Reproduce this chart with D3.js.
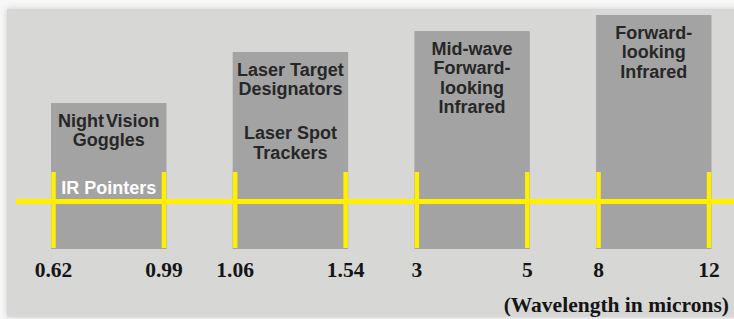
<!DOCTYPE html>
<html>
<head>
<meta charset="utf-8">
<script src="https://cdn.jsdelivr.net/npm/d3@7/dist/d3.min.js"></script>
<style>
  html, body { margin: 0; padding: 0; background: #f7f7f7; }
  svg { display: block; }
</style>
</head>
<body>
<svg id="chart" width="734" height="319"></svg>
<script>
// ---- data ----
const bands = ["Night Vision Goggles", "Laser Designators / Trackers", "Mid-wave FLIR", "FLIR"];
const startLabels = ["0.62", "1.06", "3", "8"];
const endLabels = ["0.99", "1.54", "5", "12"];
const boxLevels = [0.622, 0.841, 0.931, 1.0];
const boxLines = [
  ["Night Vision", "Goggles"],
  ["Laser Target", "Designators", "", "Laser Spot", "Trackers"],
  ["Mid-wave", "Forward-", "looking", "Infrared"],
  ["Forward-", "looking", "Infrared"]
];
const innerLabels = ["IR Pointers", "", "", ""];
const axisTitle = "(Wavelength in microns)";

// ---- drawing ----
const W = 734, H = 319;
const svg = d3.select("#chart");
const defs = svg.append("defs");
const f = defs.append("filter").attr("id", "sh").attr("x", "-5%").attr("y", "-5%").attr("width", "110%").attr("height", "110%");
f.append("feDropShadow").attr("dx", 0).attr("dy", 0).attr("stdDeviation", 3)
  .attr("flood-color", "#000").attr("flood-opacity", 0.18);

svg.append("rect").attr("x", 7).attr("y", 9).attr("width", W - 7 + 10).attr("height", H - 9 - 2)
  .attr("fill", "#d7d7d6").attr("filter", "url(#sh)");

const x = d3.scaleBand().domain(bands).range([53.5, 709]).paddingInner(0.392).paddingOuter(0);
const y = d3.scaleLinear().domain([0, 1]).range([248, 15]);
const bw = x.bandwidth();
const yellow = "#fff000";
const lineY = 201.5;

const g = svg.append("g").selectAll("g").data(bands).join("g");

// boxes
g.append("rect")
  .attr("x", d => x(d) - 2.5)
  .attr("width", bw + 5)
  .attr("y", (d, i) => y(boxLevels[i]))
  .attr("height", (d, i) => y(0) + 1 - y(boxLevels[i]))
  .attr("fill", "#a3a3a3");

// box titles
g.each(function (d, i) {
  const t = d3.select(this).append("text")
    .attr("text-anchor", "middle")
    .attr("font-family", "'Liberation Sans', Arial, sans-serif")
    .attr("font-weight", "bold")
    .attr("font-size", 18)
    .attr("fill", "#272727")
    .attr("word-spacing", i === 0 ? -3 : 0);
  let yy = y(boxLevels[i]) + 23.5;
  boxLines[i].forEach((ln, k) => {
    if (ln === "") { yy += 24.5; return; }
    t.append("tspan").attr("x", x(d) + bw / 2).attr("y", yy).text(ln);
    yy += 19.5;
  });
  if (innerLabels[i]) {
    d3.select(this).append("text")
      .attr("x", x(d) + bw / 2).attr("y", 193.5)
      .attr("text-anchor", "middle")
      .attr("font-family", "'Liberation Sans', Arial, sans-serif")
      .attr("font-weight", "bold")
      .attr("font-size", 18)
      .attr("fill", "#ffffff")
      .text(innerLabels[i]);
  }
});

// horizontal yellow line
svg.append("line").attr("x1", 16).attr("x2", W).attr("y1", lineY).attr("y2", lineY)
  .attr("stroke", yellow).attr("stroke-width", 5);

// ticks and labels
g.each(function (d, i) {
  const sel = d3.select(this);
  [[x(d), startLabels[i]], [x(d) + bw, endLabels[i]]].forEach(([px, lab]) => {
    sel.append("line").attr("x1", px).attr("x2", px).attr("y1", 172).attr("y2", 248)
      .attr("stroke", yellow).attr("stroke-width", 4.5);
    sel.append("text").attr("x", px).attr("y", 276.5)
      .attr("text-anchor", "middle")
      .attr("font-family", "'Liberation Serif', 'Times New Roman', serif")
      .attr("font-weight", "bold")
      .attr("font-size", 21.5)
      .attr("fill", "#151515")
      .text(lab);
  });
});

svg.append("text").attr("x", 729).attr("y", 311.5)
  .attr("text-anchor", "end")
  .attr("font-family", "'Liberation Serif', 'Times New Roman', serif")
  .attr("font-weight", "bold")
  .attr("font-size", 21.5)
  .attr("fill", "#151515")
  .text(axisTitle);
</script>
</body>
</html>
